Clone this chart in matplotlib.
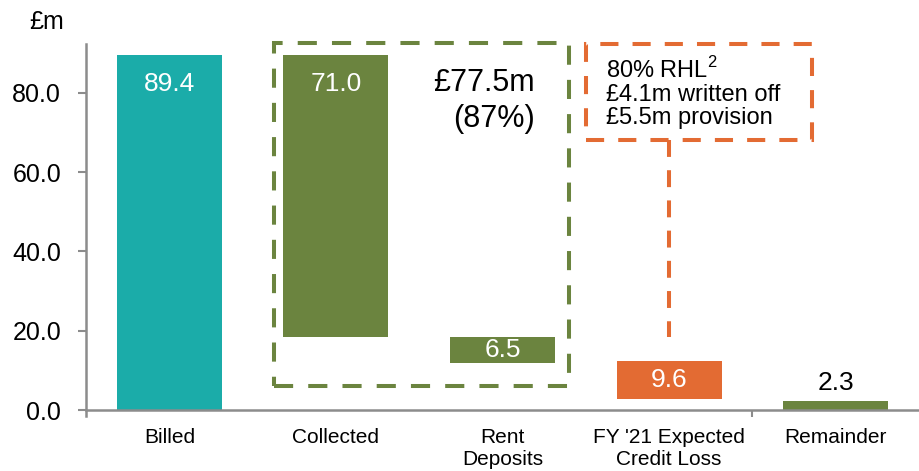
import matplotlib.pyplot as plt
from matplotlib.patches import Rectangle

plt.rcParams['font.family'] = ['Liberation Sans', 'DejaVu Sans']
plt.rcParams['mathtext.fontset'] = 'custom'
plt.rcParams['mathtext.rm'] = 'Liberation Sans'

# waterfall data
categories = ['Billed', 'Collected', 'Rent\nDeposits', "FY '21 Expected\nCredit Loss", 'Remainder']
values = [89.4, 71.0, 6.5, 9.6, 2.3]
bottoms = [0.0, 18.4, 11.9, 2.8, 0.0]
labels = ['89.4', '71.0', '6.5', '9.6', '2.3']
yticks = [0, 20, 40, 60, 80]

teal = '#1BACA9'
green = '#6B843F'
orange = '#E36B33'
grey = '#8C8C8C'
colors = [teal, green, green, orange, green]

fig = plt.figure(figsize=(9.19, 4.71), dpi=100)
ax = fig.add_axes([0.0936, 0.1295, 0.9064, 0.7771])

x = list(range(len(categories)))
ax.bar(x, values, bottom=bottoms, width=0.63, color=colors, zorder=2)

# value labels
for i in range(len(values)):
    if i in (0, 1):
        ax.text(i, bottoms[i] + values[i] - 7.2, labels[i], ha='center', va='center',
                color='white', fontsize=19)
    elif i == 4:
        ax.text(i, bottoms[i] + values[i] + 4.5, labels[i], ha='center', va='center',
                color='black', fontsize=19)
    else:
        ax.text(i, bottoms[i] + values[i] / 2, labels[i], ha='center', va='center',
                color='white', fontsize=19)

ax.set_xlim(-0.5, 4.5)
ax.set_ylim(0, 92.3)
ax.set_yticks(yticks)
ax.set_yticklabels(['%.1f' % t for t in yticks])
ax.set_xticks(x)
ax.set_xticklabels(categories)
ax.set_xticks([3.5], minor=True)

ax.tick_params(axis='y', direction='out', length=6, width=1.5, color=grey,
               labelsize=18, pad=12)
ax.tick_params(axis='x', which='major', length=0, labelsize=15, pad=13)
ax.tick_params(axis='x', which='minor', direction='out', length=5, width=1.5, color=grey)

for s in ['top', 'right']:
    ax.spines[s].set_visible(False)
for s in ['left', 'bottom']:
    ax.spines[s].set_color(grey)
    ax.spines[s].set_linewidth(1.8)
ax.spines['left'].set_bounds(-1.5, 92.3)

# dashed boxes
ax.add_patch(Rectangle((0.628, 6.05), 2.399 - 0.628, 92.6 - 6.05, fill=False,
                       edgecolor=green, linewidth=2.9, linestyle=(0, (4.75, 3.75)),
                       clip_on=False, zorder=3))
ax.add_patch(Rectangle((2.501, 68.1), 3.856 - 2.501, 92.4 - 68.1, fill=False,
                       edgecolor=orange, linewidth=2.9, linestyle=(0, (4.5, 3.5)),
                       clip_on=False, zorder=3))
ax.plot([3.0, 3.0], [68.1, 18.4], color=orange, linewidth=2.9,
        linestyle=(0, (4.2, 3.3)), zorder=3)

ax.text(2.195, 77.9, '£77.5m\n(87%)', ha='right', va='center', fontsize=22,
        multialignment='right', linespacing=1.24)
ax.text(2.621, 79.9, '80% RHL$^{2}$\n£4.1m written off\n£5.5m provision', ha='left',
        va='center', fontsize=17, linespacing=1.08)

fig.text(47 / 919, 1 - 22 / 471, '£m', ha='center', va='center', fontsize=18)

fig.savefig('out.png', dpi=100)
